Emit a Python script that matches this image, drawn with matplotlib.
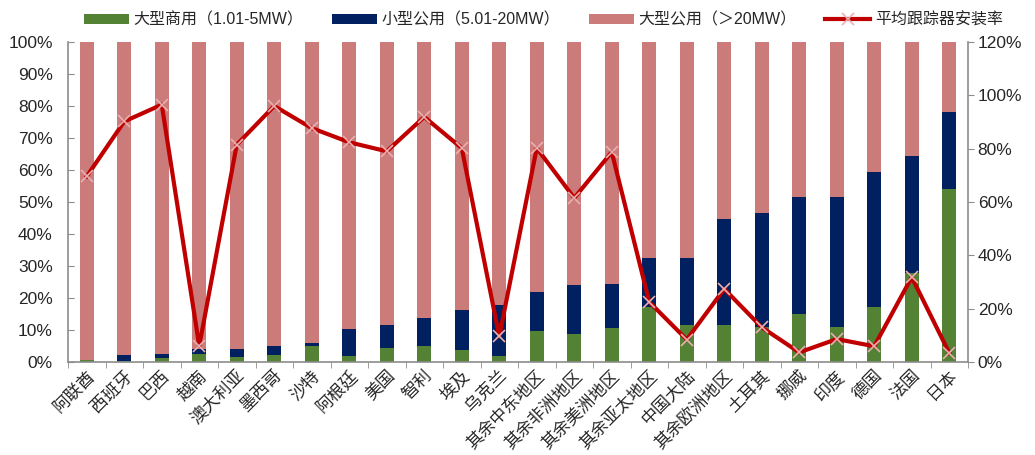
import matplotlib.pyplot as plt
import numpy as np
from matplotlib.ticker import FixedLocator, PercentFormatter

plt.rcParams["font.family"] = ["Liberation Sans", "Noto Sans CJK SC", "DejaVu Sans"]

regions = ["阿联酋", "西班牙", "巴西", "越南", "澳大利亚", "墨西哥", "沙特", "阿根廷",
           "美国", "智利", "埃及", "乌克兰", "其余中东地区", "其余非洲地区", "其余美洲地区",
           "其余亚太地区", "中国大陆", "其余欧洲地区", "土耳其", "挪威", "印度", "德国",
           "法国", "日本"]
# share of installed capacity by project type (%), stacked to 100
large_commercial = [0.5, 0.3, 1.4, 2.6, 1.7, 2.2, 5.0, 1.9, 4.3, 5.0, 3.7, 1.9, 9.7,
                    8.9, 10.7, 17.1, 11.7, 11.7, 10.8, 15.1, 10.8, 17.3, 27.8, 54.1]
small_utility = [0.0, 2.0, 1.2, 1.4, 2.3, 2.9, 0.9, 8.3, 7.2, 8.6, 12.4, 16.0, 12.3,
                 15.1, 13.6, 15.5, 20.9, 33.0, 35.7, 36.5, 40.8, 42.1, 36.5, 24.0]
large_utility = [100 - a - b for a, b in zip(large_commercial, small_utility)]
# average tracker adoption rate (%), right axis
tracker_rate = [69.6, 90.2, 96.5, 6.0, 81.5, 96.0, 87.7, 82.4, 79.0, 91.9, 80.2, 9.6,
                80.2, 61.5, 78.7, 22.5, 8.4, 27.4, 13.0, 3.6, 8.6, 5.9, 31.8, 3.4]

GREEN = "#548235"
NAVY = "#002060"
PINK = "#CC7B7B"
RED = "#C00000"
TEXT = "#262626"
SPINE = "#8C8C8C"

fig = plt.figure(figsize=(10.35, 4.55), dpi=100)
ax = fig.add_axes([68 / 1035, 93 / 455, 900 / 1035, 320 / 455])
ax2 = ax.twinx()

x = np.arange(len(regions))
w = 0.38
bottom2 = np.array(large_commercial) + np.array(small_utility)
b1 = ax.bar(x, large_commercial, w, color=GREEN, label="大型商用（1.01-5MW）", zorder=2)
b2 = ax.bar(x, small_utility, w, bottom=large_commercial, color=NAVY,
            label="小型公用（5.01-20MW）", zorder=2)
b3 = ax.bar(x, large_utility, w, bottom=bottom2, color=PINK,
            label="大型公用（＞20MW）", zorder=2)
ln, = ax2.plot(x, tracker_rate, color=RED, lw=3, marker="x", ms=9, mec="#E8B0B0",
               mew=1.2, label="平均跟踪器安装率", zorder=3)

ax.set_xlim(-0.5, len(regions) - 0.5)
ax.set_ylim(0, 100)
ax2.set_ylim(0, 120)
ax.yaxis.set_major_locator(FixedLocator(np.arange(0, 101, 10)))
ax2.yaxis.set_major_locator(FixedLocator(np.arange(0, 121, 20)))
ax.yaxis.set_major_formatter(PercentFormatter(decimals=0))
ax2.yaxis.set_major_formatter(PercentFormatter(decimals=0))

ax.set_xticks(x)
ax.set_xticklabels(regions, rotation=45, ha="right", rotation_mode="anchor",
                   fontsize=12.3, color=TEXT)
ax.set_xticks(np.arange(-0.5, len(regions)), minor=True)
ax.tick_params(axis="x", which="major", length=0, pad=4)
ax.tick_params(axis="x", which="minor", length=4, color=SPINE, direction="out")
ax.tick_params(axis="y", direction="in", length=4, color=SPINE, labelsize=12.5,
               labelcolor=TEXT, pad=11)
ax2.tick_params(axis="y", direction="out", length=4, color=SPINE, labelsize=12.5,
                labelcolor=TEXT, pad=3)

ax.spines["top"].set_visible(False)
ax2.spines["top"].set_visible(False)
ax.spines["right"].set_visible(False)
ax2.spines["left"].set_visible(False)
ax2.spines["bottom"].set_visible(False)
for sp in (ax.spines["left"], ax.spines["bottom"], ax2.spines["right"]):
    sp.set_color(SPINE)
    sp.set_linewidth(1.2)

fig.legend([b1, b2, b3, ln], [b1.get_label(), b2.get_label(), b3.get_label(), ln.get_label()],
           loc="center", bbox_to_anchor=(0.525, 1 - 20 / 455), ncol=4, frameon=False,
           fontsize=11.5, handlelength=2.8, handleheight=0.6, columnspacing=1.8,
           handletextpad=0.3, labelcolor=TEXT)

fig.savefig("out.png", dpi=100)
